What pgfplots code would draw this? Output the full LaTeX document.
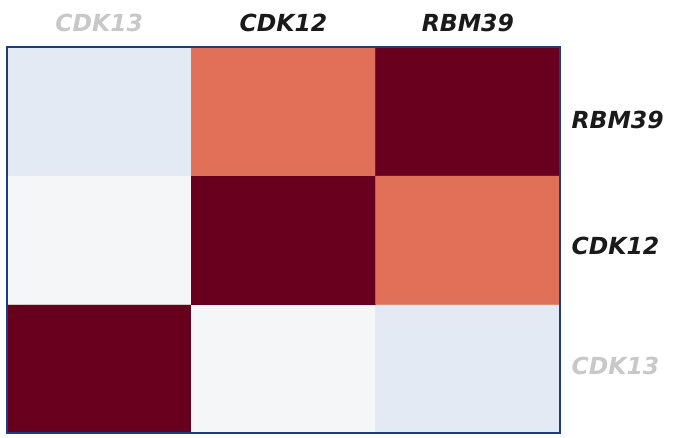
\documentclass[border=0pt]{standalone}
\usepackage{fontspec}
\setmainfont{DejaVu Sans}
\usepackage{pgfplots}
\pgfplotsset{compat=1.18}
\definecolor{navy}{HTML}{1F3D7A}
\definecolor{lblgray}{HTML}{C8C8C8}
\definecolor{lblblack}{HTML}{1A1A1A}

\begin{document}
\begin{tikzpicture}[x=1pt,y=1pt]
\useasboundingbox (0,0) rectangle (674,437);
\begin{axis}[
  at={(7pt,4pt)}, anchor=south west,
  scale only axis,
  width=553pt, height=386pt,
  xmin=-0.5, xmax=2.5, ymin=-0.5, ymax=2.5,
  xtick={0,1,2},
  % right-hand labels sit slightly off the row centres in the original
  ytick={0.023,0.953,1.93},
  xticklabels={\textcolor{lblgray}{CDK13}, CDK12, RBM39},
  yticklabels={\textcolor{lblgray}{CDK13}, CDK12, RBM39},
  xticklabel pos=top, yticklabel pos=right,
  major tick length=0pt,
  tick label style={font=\fontsize{23.5}{26}\selectfont\bfseries\itshape, text=lblblack},
  xticklabel style={yshift=12pt},
  yticklabel style={xshift=8pt},
  axis line style={navy, line width=1.5pt},
  colormap={heat}{rgb255=(227,234,243) rgb255=(245,246,248) rgb255=(224,112,88) rgb255=(103,0,31)},
  colormap access=direct,
  axis on top,
]
% meta: 0 light blue, 1 near white, 2 salmon, 3 maroon
\addplot[matrix plot*, mesh/cols=3, point meta=explicit] table[meta=c] {
x y c
0 0 3
1 0 1
2 0 0
0 1 1
1 1 3
2 1 2
0 2 0
1 2 2
2 2 3
};
\end{axis}
\end{tikzpicture}
\end{document}
